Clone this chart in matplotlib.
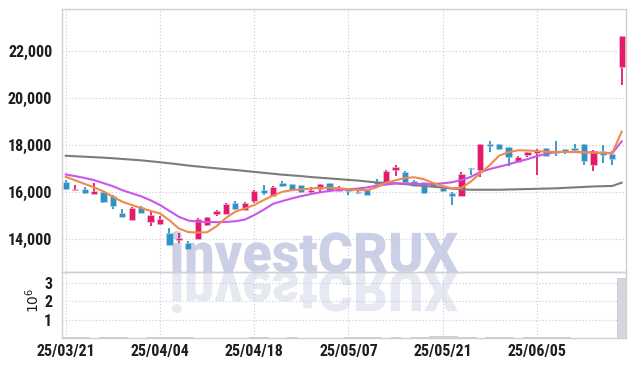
import numpy as np
import matplotlib
matplotlib.use('Agg')
import matplotlib.pyplot as plt
from matplotlib import font_manager
from matplotlib.textpath import TextPath
from matplotlib.patches import PathPatch
from matplotlib.font_manager import FontProperties
from matplotlib.transforms import Affine2D, IdentityTransform

# 일봉 데이터
opens = [16450, 16100, 16130, 15930, 16000, 15830, 15100, 14820, 15375, 14735,
         14640, 14250, 13950, 13820, 14010, 14580, 15075, 15075, 15545, 15235,
         15615, 16100, 15840, 16400, 16340, 16300, 16000, 16115, 16380, 16055,
         16130, 16015, 16070, 16425, 16400, 16950, 16850, 16470, 16425, 16370,
         16155, 15970, 15840, 17020, 16925, 18040, 18040, 17900, 17290, 17575,
         17650, 17870, 17700, 17815, 17880, 18040, 17140, 17745, 17620, 21330]
highs = [16500, 16300, 16230, 16370, 16050, 15870, 15270, 15380, 15400, 15135,
         15000, 14480, 14240, 13900, 14900, 14950, 15230, 15520, 15620, 15560,
         16080, 16310, 16250, 16460, 16360, 16320, 16225, 16360, 16400, 16270,
         16150, 16060, 16090, 16570, 16920, 17135, 16880, 16500, 16450, 16420,
         16200, 16000, 16850, 17030, 18060, 18170, 18060, 17930, 17520, 17720,
         17815, 17880, 18180, 17830, 18030, 18060, 17770, 18000, 17730, 22650]
lows = [16100, 16050, 15900, 15900, 15550, 15290, 14920, 14800, 15100, 14550,
        14620, 13750, 13850, 13550, 14000, 14550, 14980, 15050, 15250, 15220,
        15545, 15870, 15820, 16230, 16060, 15980, 15915, 15970, 15985, 16040,
        15860, 15930, 15870, 16310, 16380, 16680, 16420, 16250, 15900, 16200,
        16000, 15430, 15820, 16720, 16650, 17690, 17780, 17130, 17270, 17490,
        16725, 17530, 17550, 17620, 17760, 17140, 16895, 17255, 17140, 20540]
closes = [16150, 16150, 15950, 16050, 15590, 15420, 14950, 15330, 15120, 15020,
          14850, 13770, 14030, 13570, 14850, 14920, 15200, 15500, 15280, 15530,
          16055, 15950, 16210, 16260, 16085, 16000, 16085, 16340, 16085, 16185,
          16045, 15975, 15885, 16330, 16895, 17050, 16440, 16270, 15970, 16255,
          16055, 15840, 16750, 16965, 18040, 17970, 17815, 17500, 17490, 17700,
          17730, 17550, 17680, 17715, 17790, 17330, 17745, 17590, 17420, 22640]

# 이동평균선
ma_short = [16650, 16500, 16350, 16200, 16030, 15800, 15590, 15450, 15320, 15200,
            15090, 14800, 14450, 14300, 14280, 14290, 14550, 14900, 15170, 15300,
            15450, 15660, 15850, 16015, 16080, 16115, 16150, 16185, 16185, 16170,
            16115, 16085, 16085, 16200, 16400, 16500, 16600, 16630, 16550, 16380,
            16255, 16160, 16180, 16450, 16800, 17150, 17550, 17700, 17780, 17770,
            17745, 17720, 17715, 17710, 17700, 17690, 17680, 17670, 17660, 18570]
ma_mid = [16750, 16680, 16600, 16510, 16380, 16250, 16080, 15950, 15820, 15650,
          15450, 15200, 14950, 14790, 14740, 14730, 14720, 14730, 14760, 14830,
          15020, 15250, 15500, 15620, 15730, 15830, 15915, 15990, 16050, 16090,
          16120, 16150, 16200, 16270, 16320, 16370, 16370, 16360, 16340, 16350,
          16370, 16420, 16510, 16650, 16850, 16980, 17080, 17180, 17300, 17400,
          17530, 17630, 17700, 17710, 17710, 17700, 17690, 17660, 17650, 18160]
ma_long = [17545, 17525, 17505, 17485, 17465, 17440, 17410, 17380, 17350, 17310,
           17270, 17225, 17180, 17130, 17090, 17050, 17010, 16975, 16940, 16900,
           16860, 16820, 16780, 16740, 16710, 16680, 16640, 16610, 16580, 16550,
           16520, 16490, 16450, 16410, 16390, 16370, 16340, 16300, 16260, 16230,
           16190, 16150, 16120, 16100, 16100, 16100, 16100, 16110, 16120, 16130,
           16140, 16150, 16160, 16180, 16200, 16220, 16240, 16250, 16260, 16400]

# 거래량 (백만 주)
volumes = [0.03, 0.03, 0.03, 0.0, 0.03, 0.03, 0.03, 0.0, 0.0, 0.03,
           0.08, 0.03, 0.03, 0.03, 0.0, 0.0, 0.0, 0.0, 0.0, 0.0,
           0.03, 0.03, 0.0, 0.0, 0.03, 0.0, 0.0, 0.0, 0.0, 0.0,
           0.03, 0.08, 0.03, 0.03, 0.0, 0.03, 0.0, 0.07, 0.03, 0.12,
           0.12, 0.12, 0.03, 0.03, 0.0, 0.03, 0.03, 0.03, 0.0, 0.03,
           0.03, 0.03, 0.03, 0.03, 0.01, 0.01, 0.01, 0.01, 0.01, 3.25]

tick_pos = [0, 10, 20, 30, 40, 50]
tick_labels = ['25/03/21', '25/04/04', '25/04/18', '25/05/07', '25/05/21', '25/06/05']
price_ticks = [14000, 16000, 18000, 20000, 22000]
vol_ticks = [1, 2, 3]

UP = '#e8196c'
DOWN = '#2b93c8'
GRID = '#c4cadf'
SPINE = '#cfcfd4'
TXT = '#1e1e1e'

# 좁은 글꼴 찾기 (없으면 DejaVu Sans를 작게)
names = {f.name: f for f in font_manager.fontManager.ttflist}
cond = [f for f in font_manager.fontManager.ttflist
        if f.stretch in ('condensed', 'semi-condensed', 'extra-condensed', 500, 300, 400)
        and f.name in ('DejaVu Sans', 'Roboto', 'Open Sans', 'Noto Sans')]
if 'Liberation Sans Narrow' in names:
    tick_font = {'family': 'Liberation Sans Narrow', 'size': 12, 'color': TXT, 'weight': 'bold'}
elif 'Roboto Condensed' in names:
    tick_font = {'family': 'Roboto Condensed', 'size': 11.5, 'color': TXT, 'weight': 'bold'}
elif cond:
    tick_font = {'family': cond[0].name, 'stretch': cond[0].stretch, 'size': 10.5,
                 'color': TXT, 'weight': 'bold'}
else:
    tick_font = {'family': 'DejaVu Sans', 'size': 9.5, 'color': TXT}

W, H = 634, 366
fig = plt.figure(figsize=(W / 100, H / 100), dpi=100)
fig.patch.set_facecolor('white')

left, right = 62 / W, 626 / W
ax = fig.add_axes([left, 1 - 272 / H, right - left, (272 - 9) / H])
axv = fig.add_axes([left, 1 - 338 / H, right - left, (338 - 272) / H], sharex=ax)

x = np.arange(len(opens))
o, h, l, c = map(np.array, (opens, highs, lows, closes))
colors = [UP if cc >= oo else DOWN for oo, cc in zip(o, c)]
body = np.where(np.abs(c - o) < 40, 40, np.abs(c - o))
bottom = np.minimum(o, c) - np.where(np.abs(c - o) < 40, 20, 0)

ax.vlines(x, l, h, colors=colors, linewidth=1.3, zorder=3)
ax.bar(x, body, bottom=bottom, width=0.66, color=colors, linewidth=0.6,
       edgecolor=(0.85, 0.85, 0.88, 0.6), zorder=4)

ax.plot(x, ma_long, color='#7c7c7c', linewidth=1.5, zorder=5)
ax.plot(x, ma_mid, color='#cc55ee', linewidth=1.5, zorder=5)
ax.plot(x, ma_short, color='#f08a4c', linewidth=1.5, zorder=5)

axv.bar(x, volumes, width=1.0, color='#d5d5dc', edgecolor='#c3c3cc', linewidth=0.5, zorder=3)

for a in (ax, axv):
    a.set_facecolor('none')
    a.grid(True, color=GRID, linestyle=(0, (1, 2)), linewidth=0.8)
    a.set_axisbelow(True)
    a.tick_params(length=0, pad=7)
    for s in a.spines.values():
        s.set_color(SPINE)
        s.set_linewidth(1.0)

ax.set_xlim(-0.4, 59.46)
ax.set_ylim(12600, 23790)
ax.set_yticks(price_ticks)
ax.set_yticklabels([f'{v:,}' for v in price_ticks], fontdict=tick_font)
ax.set_xticks(tick_pos)
ax.tick_params(axis='x', labelbottom=False)

axv.set_ylim(0, 3.57)
axv.set_yticks(vol_ticks)
axv.set_yticklabels([str(v) for v in vol_ticks], fontdict=tick_font)
axv.set_xticks(tick_pos)
axv.set_xticklabels(tick_labels, fontdict=tick_font)
axv.tick_params(axis='x', pad=4)
fig.text(33 / W, 1 - 300 / H, r'$10^6$', rotation=90, ha='center', va='center',
         fontsize=10, color=TXT)

# 워터마크 + 반사
fp = FontProperties(family=['Roboto', 'DejaVu Sans'], weight='black')
tp = TextPath((0, 0), 'investCRUX', prop=fp)
ext = tp.get_extents()
sx = (458 - 172) / ext.width
sy = 41 / ext.y1
base = H - 272
wm = Affine2D().translate(-ext.x0, 0).scale(sx, sy).translate(172, base)
wr = Affine2D().translate(-ext.x0, 0).scale(sx, -sy).translate(172, base)
fig.patches.append(PathPatch(wm.transform_path(tp), facecolor='#cbd0e6', edgecolor='none',
                             transform=IdentityTransform(), zorder=-1, figure=fig))
fig.patches.append(PathPatch(wr.transform_path(tp), facecolor='#e6e8f2', edgecolor='none',
                             transform=IdentityTransform(), zorder=-1, figure=fig))

fig.savefig('out.png', dpi=100)
